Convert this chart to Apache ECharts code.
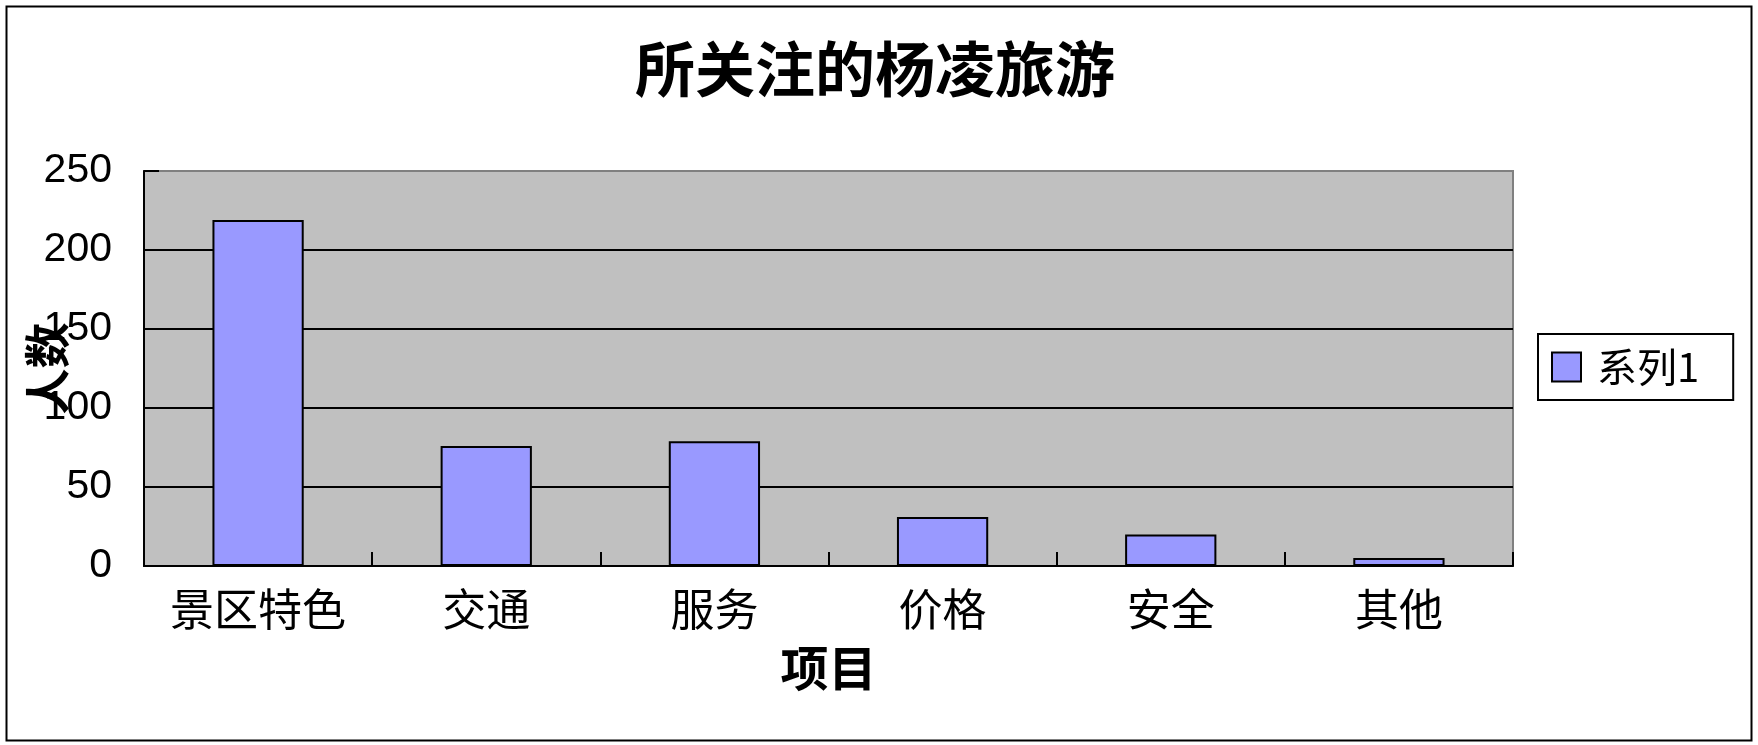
<!DOCTYPE html>
<html>
<head>
<meta charset="utf-8">
<title>所关注的杨凌旅游</title>
<script src="https://cdn.jsdelivr.net/npm/echarts@6/dist/echarts.min.js"></script>
<style>
  html, body { margin: 0; padding: 0; background: #ffffff; }
  #chart { width: 1758px; height: 745px; }
</style>
</head>
<body>
<div id="chart"></div>
<script>
// Survey: which aspects of Yangling tourism people care about
const categories = ['景区特色', '交通', '服务', '价格', '安全', '其他'];
const seriesName = '系列1';
const counts = [219, 76, 79, 31, 20, 5];
const yTicks = { min: 0, max: 250, interval: 50 };

const CJK = '"Noto Sans CJK SC", "Noto Sans", sans-serif';

const chart = echarts.init(document.getElementById('chart'), null, { renderer: 'canvas' });

chart.setOption({
  backgroundColor: '#ffffff',
  animation: false,
  textStyle: { fontFamily: CJK, color: '#000' },
  graphic: [{
    type: 'rect',
    left: 4, top: 4,
    shape: { width: 1745, height: 734 },
    style: { fill: 'none', stroke: '#000', lineWidth: 2 },
    silent: true
  }],
  title: {
    text: '所关注的杨凌旅游',
    left: 635, top: 39,
    padding: 0,
    textStyle: { fontFamily: CJK, fontSize: 60, fontWeight: 'bold', color: '#000' }
  },
  legend: {
    left: 1538, top: 334,
    orient: 'vertical',
    backgroundColor: '#ffffff',
    borderColor: '#000',
    borderWidth: 2,
    borderRadius: 0,
    padding: [13, 34, 13, 13],
    itemWidth: 29, itemHeight: 29,
    textStyle: { fontFamily: CJK, fontSize: 40, color: '#000', padding: [0, 0, 0, 11] },
    data: [{ name: seriesName, icon: 'rect', itemStyle: { color: '#9999FF', borderColor: '#000', borderWidth: 2 } }]
  },
  grid: {
    left: 144, right: 245, top: 171, bottom: 179,
    containLabel: false,
    outerBoundsMode: 'none',
    show: true,
    backgroundColor: '#C0C0C0',
    borderColor: '#808080',
    borderWidth: 2
  },
  xAxis: {
    type: 'category',
    data: categories,
    name: '项目',
    nameLocation: 'middle',
    nameGap: 78,
    nameMoveOverlap: false,
    nameTextStyle: { fontFamily: CJK, fontSize: 48, fontWeight: 'bold', color: '#000' },
    axisLine: { show: true, lineStyle: { color: '#000', width: 2 } },
    axisTick: { show: true, inside: true, interval: 0, length: 14, lineStyle: { color: '#000', width: 2 } },
    axisLabel: { interval: 0, margin: 21, fontFamily: CJK, fontSize: 44, color: '#000' },
    splitLine: { show: false }
  },
  yAxis: {
    type: 'value',
    min: yTicks.min, max: yTicks.max, interval: yTicks.interval,
    name: '人数',
    nameLocation: 'middle',
    nameRotate: 90,
    nameGap: 74,
    nameMoveOverlap: false,
    nameTextStyle: { fontFamily: CJK, fontSize: 46, fontWeight: 'bold', color: '#000' },
    axisLine: { show: true, lineStyle: { color: '#000', width: 2 } },
    axisTick: { show: true, inside: true, length: 15, lineStyle: { color: '#000', width: 2 } },
    axisLabel: { margin: 32, fontFamily: '"Liberation Sans", sans-serif', fontSize: 41, color: '#000' },
    splitLine: {
      show: true,
      lineStyle: { color: ['#000', '#000', '#000', '#000', '#000', '#808080'], width: 2 }
    }
  },
  series: [{
    name: seriesName,
    type: 'bar',
    data: counts,
    barCategoryGap: '60%',
    itemStyle: { color: '#9999FF', borderColor: '#000', borderWidth: 2 }
  }]
});
</script>
</body>
</html>
